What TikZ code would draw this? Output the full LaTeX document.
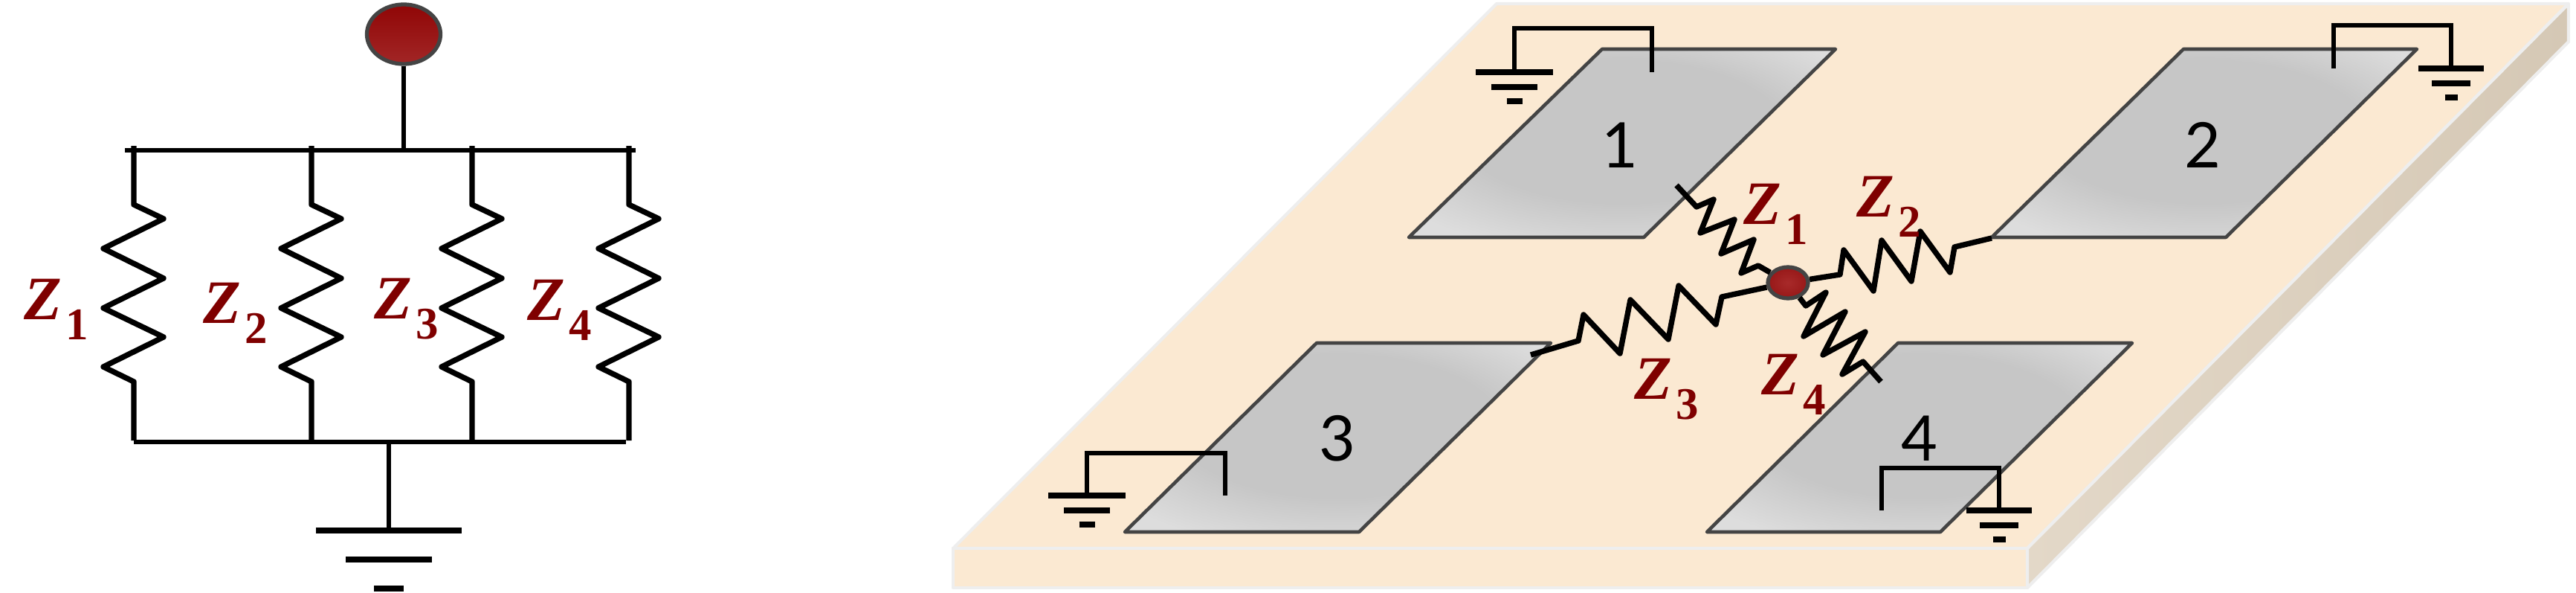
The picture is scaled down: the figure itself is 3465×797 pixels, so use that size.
\documentclass[tikz,border=0pt]{standalone}
\usepackage{amsmath}
\usepackage{fontspec}
\usetikzlibrary{shapes.geometric}
\newfontfamily\padfont{Lato}
\newfontfamily\zfont{Liberation Serif}
\definecolor{darkred}{HTML}{7F0000}
\definecolor{boardtop}{HTML}{FBE9D2}
\definecolor{sidelight}{HTML}{E3D8C8}
\definecolor{sidedark}{HTML}{D5C8B5}
\definecolor{boardedge}{HTML}{EEEEEE}
\definecolor{padedge}{HTML}{444444}
\definecolor{padmid}{HTML}{C6C6C6}
\definecolor{padrim}{HTML}{DDDDDD}
\definecolor{dottop}{HTML}{900606}
\definecolor{dotmid}{HTML}{A93B3B}
\definecolor{dotlow}{HTML}{A22626}
\definecolor{hubin}{HTML}{A82A2A}
\definecolor{hubout}{HTML}{971818}
\pgfdeclareradialshading{padshade}{\pgfpoint{0bp}{5bp}}{color(0bp)=(padmid); color(19bp)=(padmid); color(32bp)=(padrim); color(50bp)=(padrim)}
\newcommand{\zlabel}[1]{{\zfont\bfseries\itshape Z}\kern.06em\raisebox{-.32em}{\fontsize{17.3}{17.3}\selectfont\zfont\bfseries #1}}
\tikzset{
  wire/.style={line width=2.1pt, line join=round},
  thinwire/.style={line width=1.9pt, line join=miter},
  bar/.style={line width=2.1pt},
  zlab/.style={text=darkred, font=\fontsize{23.6}{23.6}\selectfont, inner sep=0pt},
  padlab/.style={font=\padfont\fontsize{24}{24}\selectfont, inner sep=0pt},
  pad/.style={draw=padedge, line width=1.3pt, line join=round, shading=padshade},
  srcdot/.style={ellipse, draw=padedge, line width=1.5pt, inner sep=0pt, top color=dottop, middle color=dotmid, bottom color=dotlow},
  hubdot/.style={ellipse, draw=padedge, line width=1.5pt, inner sep=0pt, inner color=hubin, outer color=hubout}
}
\begin{document}
\begin{tikzpicture}[x=0.01cm, y=-0.01cm]
  \useasboundingbox (0,0) rectangle (3465,797);
  % circuit
  \node[srcdot, minimum width=0.99cm, minimum height=0.8cm] (src) at (543,46) {};
  \coordinate (topbus) at (543,202);
  \coordinate (botbus) at (523,594);
  \coordinate (earth) at (523,713);
  \draw[thinwire] (src) -- (topbus);
  \draw[thinwire] (168,202) -- (855,202);
  \draw[thinwire] (180,594) -- (842,594);
  \draw[thinwire] (botbus) -- (earth);
  \foreach \i/\x in {1/180,2/419,3/635,4/846}{
    \coordinate (top\i) at (\x,196);
    \coordinate (bot\i) at (\x,592);
    \draw[wire] (top\i) -- ++(0,79) -- ++(40,19) -- ++(-81,40) -- ++(81,40) -- ++(-81,40)
      -- ++(81,39) -- ++(-81,40) -- ++(41,20) -- (bot\i);
  }
  \foreach \ya/\w in {713/98,752/58,791/20}
    \draw[bar] (523-\w,\ya) -- (523+\w,\ya);
  \node[zlab] (zl1) at (76,416) {\zlabel{1}};
  \node[zlab] (zl2) at (317,421) {\zlabel{2}};
  \node[zlab] (zl3) at (547,415) {\zlabel{3}};
  \node[zlab] (zl4) at (753,417) {\zlabel{4}};
  % board
  \fill[boardtop, draw=boardedge, line width=1.2pt, line join=round] (1282,737) -- (2013,5) -- (3455,5) -- (2727,737) -- cycle;
  \fill[boardtop, draw=boardedge, line width=1.2pt, line join=round] (1282,737) rectangle (2727,790);
  \shade[draw=boardedge, line width=1.2pt, line join=round, left color=sidelight, right color=sidedark] (2727,737) -- (3455,5) -- (3455,56) -- (2727,790) -- cycle;
  % pads
  \path[pad] (2155,66) -- (2469,66) -- (2211,319) -- (1895,319) -- cycle;
  \path[pad] (2937,66) -- (3251,66) -- (2994,319) -- (2679,319) -- cycle;
  \path[pad] (1771,461) -- (2086,461) -- (1828,715) -- (1513,715) -- cycle;
  \path[pad] (2553,461) -- (2868,461) -- (2610,715) -- (2296,715) -- cycle;
  \node[padlab] (lab1) at (2179,195) {1};
  \node[padlab] (lab2) at (2963,195) {2};
  \node[padlab] (lab3) at (1799,589) {3};
  \node[padlab] (lab4) at (2582,589) {4};
  % grounds
  \foreach \i/\tx/\gx/\gy/\up/\wa/\wb/\wc in {1/2222/2037/97/59/52/31/10.5, 2/3139/3297/92/58/44/26/8.5, 3/1648/1462/666/57/52/31/10.5, 4/2531/2689/686/57/44/26/8.5}{
    \coordinate (term\i) at (\tx,\gy);
    \coordinate (gnd\i) at (\gx,\gy);
    \draw[thinwire] (term\i) -- ++(0,-\up) -| (gnd\i);
    \draw[bar] (\gx-\wa,\gy) -- (\gx+\wa,\gy);
    \draw[bar] (\gx-\wb,\gy+20) -- (\gx+\wb,\gy+20);
    \draw[bar] (\gx-\wc,\gy+39) -- (\gx+\wc,\gy+39);
  }
  % impedances
  \node[hubdot, minimum width=0.54cm, minimum height=0.42cm] (hub) at (2405,380) {};
  \coordinate (pad1) at (2255,249);
  \coordinate (pad2) at (2679,320);
  \coordinate (pad3) at (2059,477);
  \coordinate (pad4) at (2530,513);
  \draw[wire] (pad1) -- (2282,278) -- (2305,268) -- (2287,313) -- (2333,295) -- (2315,341) -- (2359,322) -- (2342,367) -- (2365,357) -- (hub);
  \draw[wire] (hub) -- (2475,369) -- (2480,336) -- (2520,391) -- (2531,323) -- (2571,378) -- (2583,311) -- (2623,366) -- (2629,332) -- (pad2);
  \draw[wire] (pad3) -- (2123,458) -- (2130,423) -- (2179,475) -- (2193,403) -- (2244,456) -- (2258,384) -- (2308,436) -- (2316,399) -- (hub);
  \draw[wire] (hub) -- (2429,411) -- (2456,393) -- (2426,452) -- (2482,419) -- (2452,477) -- (2509,446) -- (2478,503) -- (2506,486) -- (pad4);
  \node[zlab] (zr1) at (2389,288) {\zlabel{1}};
  \node[zlab] (zr2) at (2541,278) {\zlabel{2}};
  \node[zlab] (zr3) at (2242,523) {\zlabel{3}};
  \node[zlab] (zr4) at (2413,517) {\zlabel{4}};
\end{tikzpicture}
\end{document}
